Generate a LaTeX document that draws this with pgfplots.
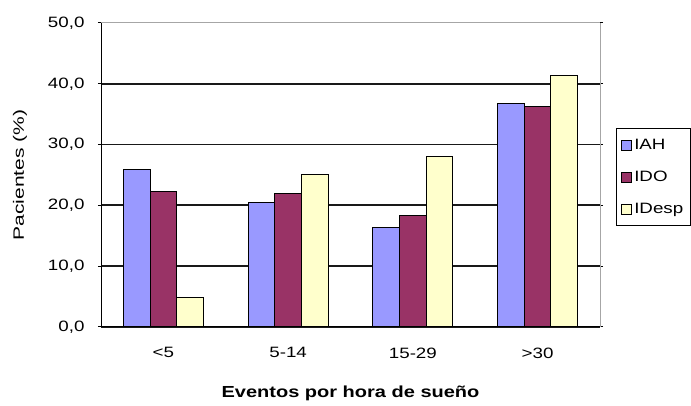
\documentclass[border=0pt]{standalone}
\usepackage{pgfplots}
\pgfplotsset{compat=1.18}
\usepackage{fontspec}
\setmainfont{Liberation Sans}[FakeStretch=1.25]
\newfontfamily\ylabfont{Liberation Sans}[FakeStretch=1.4]
\definecolor{iah}{RGB}{153,153,255}
\definecolor{ido}{RGB}{153,51,102}
\definecolor{idesp}{RGB}{255,255,204}

\pgfplotsset{
  mybar/.style={fill=#1, draw=black, line width=1pt,
    legend image code/.code={\draw[fill=#1, draw=black, line width=0.8pt] (0pt,-5pt) rectangle (10pt,5pt);}},
}

\begin{document}
\begin{tikzpicture}
\begin{axis}[
    at={(101pt,79pt)}, anchor=south west,
    scale only axis, width=499pt, height=304pt,
    ybar=0pt, bar width=26.7pt,
    xmin=-0.5, xmax=3.5,
    ymin=0, ymax=50,
    xtick={0,1,2,3},
    xticklabels={{<5},{5-14},{15-29},{>30}},
    major x tick style={draw=none},
    extra x ticks={-0.5,0.5,1.5,2.5,3.5},
    extra x tick labels={},
    extra x tick style={tick align=outside, major tick length=5pt, grid=none,
        tick style={black, line width=1pt}},
    ytick={0,10,20,30,40},
    extra y ticks={50},
    extra y tick style={grid=none},
    ymajorgrids,
    major grid style={black!90, line width=1.8pt},
    tick align=outside,
    major tick length=3pt,
    ytick style={black, line width=1pt},
    axis line style={gray!70, line width=1pt},
    /pgf/number format/.cd, fixed, fixed zerofill, precision=1, use comma,
        assume math mode=true,
    /pgfplots/.cd,
    tick label style={font=\fontsize{15}{18}\selectfont},
    yticklabel style={xshift=-10pt},
    xticklabel style={yshift=-14pt},
    xlabel={Eventos por hora de sueño},
    xlabel style={at={(axis description cs:0.5,-0.217)}, anchor=center,
        font=\fontsize{16}{18}\selectfont\bfseries},
    ylabel={Pacientes (\%)},
    ylabel style={at={(axis description cs:-0.1623,0.5)}, anchor=center,
        font=\fontsize{15}{18}\selectfont\ylabfont},
    legend style={at={(axis description cs:1.032,0.655)}, anchor=north west,
        draw=black, line width=1pt, font=\fontsize{15}{18}\selectfont,
        row sep=16pt, inner xsep=5pt, inner ysep=9pt},
    legend cell align=left,
]
\addplot[mybar=iah] coordinates {(0,25.9) (1,20.4) (2,16.4) (3,36.7)};
\addlegendentry{IAH}
\addplot[mybar=ido] coordinates {(0,22.3) (1,21.9) (2,18.3) (3,36.3)};
\addlegendentry{IDO}
\addplot[mybar=idesp] coordinates {(0,4.8) (1,25.0) (2,28.1) (3,41.4)};
\addlegendentry{IDesp}
\draw[black, line width=1.2pt] (rel axis cs:0,1) -- (rel axis cs:0,0) -- (rel axis cs:1,0);
\end{axis}
\pgfresetboundingbox
\useasboundingbox (0,0) rectangle (691pt,406pt);
\end{tikzpicture}
\end{document}
